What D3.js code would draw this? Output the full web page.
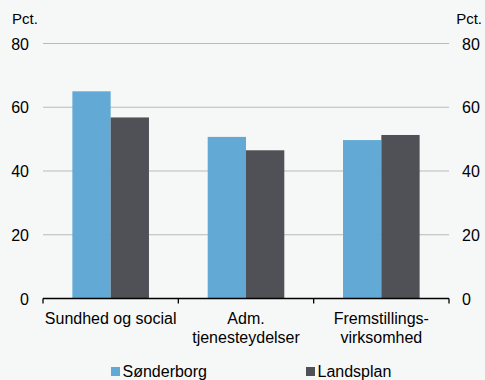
<!DOCTYPE html>
<html><head><meta charset="utf-8">
<script src="https://cdn.jsdelivr.net/npm/d3@7"></script>
<style>
html,body{margin:0;padding:0;background:#f6f8f8;}
svg{display:block;font-family:"Liberation Sans",Arial,sans-serif;}
</style></head>
<body><svg id="c" width="485" height="380"></svg>
<script>
const categories = [["Sundhed og social"], ["Adm.", "tjenesteydelser"], ["Fremstillings-", "virksomhed"]];
const seriesNames = ["Sønderborg", "Landsplan"];
const sonderborg = [65, 50.7, 49.7];
const landsplan = [56.8, 46.5, 51.3];
const yTicks = [0, 20, 40, 60, 80];
const colors = ["#62a9d5", "#505156"];

const svg = d3.select("#c");
const W = 485, H = 380;
svg.append("rect").attr("width", W).attr("height", H).attr("fill", "#f6f8f8");

const x0 = 43, x1 = 449, yTop = 43.5, yBot = 298.5;
const x = d3.scaleBand().domain(d3.range(categories.length)).range([x0, x1]).paddingInner(0).paddingOuter(0);
const y = d3.scaleLinear().domain([0, 80]).range([yBot, yTop]);
const series = [sonderborg, landsplan];
const barW = x.bandwidth() * 0.283;

// gridlines
svg.append("g").selectAll("line").data(yTicks.filter(d => d > 0)).join("line")
  .attr("x1", x0).attr("x2", x1).attr("y1", d => y(d)).attr("y2", d => y(d))
  .attr("stroke", "#b9b9b9").attr("stroke-width", 1);

// bars
series.forEach((vals, si) => {
  svg.append("g").selectAll("rect").data(vals).join("rect")
    .attr("x", (d, i) => x(i) + x.bandwidth() / 2 - barW + si * barW)
    .attr("width", barW)
    .attr("y", d => y(d))
    .attr("height", d => y(0) - y(d))
    .attr("fill", colors[si]);
});

// x axis line and ticks
svg.append("line").attr("x1", x0).attr("x2", x1).attr("y1", yBot).attr("y2", yBot)
  .attr("stroke", "#000").attr("stroke-width", 1.3);
const bounds = d3.range(categories.length + 1).map(i => i < categories.length ? x(i) : x1);
svg.append("g").selectAll("line").data(bounds).join("line")
  .attr("x1", d => d).attr("x2", d => d).attr("y1", yBot).attr("y2", yBot + 5)
  .attr("stroke", "#000").attr("stroke-width", 1.3);

// category labels
categories.forEach((lines, i) => {
  const t = svg.append("text").attr("text-anchor", "middle").attr("font-size", 16).attr("fill", "#000");
  lines.forEach((ln, j) => {
    t.append("tspan").attr("x", x(i) + x.bandwidth() / 2).attr("y", 324 + j * 18.5).text(ln);
  });
});

// y tick labels
svg.append("g").selectAll("text").data(yTicks).join("text")
  .attr("x", 29).attr("y", d => y(d) + 6).attr("text-anchor", "end")
  .attr("font-size", 16).text(d => d);
svg.append("g").selectAll("text").data(yTicks).join("text")
  .attr("x", 462).attr("y", d => y(d) + 6).attr("text-anchor", "start")
  .attr("font-size", 16).text(d => d);
svg.append("text").attr("x", 12).attr("y", 23.5).attr("font-size", 15).text("Pct.");
svg.append("text").attr("x", 482).attr("y", 23.5).attr("text-anchor", "end").attr("font-size", 15).text("Pct.");

// legend
const legX = [111, 306];
seriesNames.forEach((n, i) => {
  svg.append("rect").attr("x", legX[i]).attr("y", 367).attr("width", 9).attr("height", 9).attr("fill", colors[i]);
  svg.append("text").attr("x", legX[i] + 11.5).attr("y", 376.5).attr("font-size", 16).text(n);
});
</script></body></html>
